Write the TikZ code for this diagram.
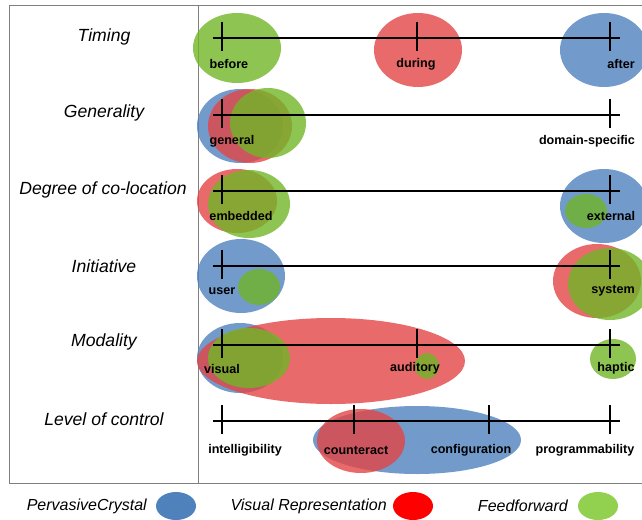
\documentclass[tikz,border=0pt]{standalone}
\usepackage{fontspec}
\setmainfont{Liberation Sans}
\usetikzlibrary{positioning,shapes.geometric}
\definecolor{pcblue}{HTML}{4F81BD}
\definecolor{vrred}{HTML}{E34545}
\definecolor{ffgreen}{HTML}{70B527}
\definecolor{keyred}{HTML}{FF0000}
\definecolor{keygreen}{HTML}{92D050}
\definecolor{framegray}{HTML}{7F7F7F}

\begin{document}
\begin{tikzpicture}[x=1pt,y=-1pt,
  axis/.style={line width=1.1pt,black},
  frameline/.style={framegray,line width=0.9pt},
  dimlabel/.style={font=\fontsize{17.6}{20}\selectfont\itshape,inner sep=0pt},
  value/.style={font=\fontsize{12.6}{14}\selectfont\bfseries,inner sep=0pt},
  legendtext/.style={font=\fontsize{16}{19}\selectfont\itshape,anchor=east,inner sep=0pt},
  keyblob/.style={ellipse,minimum width=40pt,minimum height=28pt,inner sep=0pt},
  pcblob/.style={fill=pcblue,fill opacity=0.8},
  vrblob/.style={fill=vrred,fill opacity=0.8},
  ffblob/.style={fill=ffgreen,fill opacity=0.8}]

  \useasboundingbox (0,0) rectangle (642,519);

  % frame
  \draw[frameline] (642,5) -- (9,5) -- (9,483) -- (642,483);
  \draw[frameline] (198,5) -- (198,483);

  % timing
  \fill[ffblob] (237,48) ellipse [x radius=44,y radius=35];
  \fill[vrblob] (418,50) ellipse [x radius=44,y radius=37];
  \fill[pcblob] (604,50) ellipse [x radius=44,y radius=37];

  % generality
  \fill[pcblob] (240,126) ellipse [x radius=43,y radius=37];
  \fill[vrblob] (250,126) ellipse [x radius=42,y radius=37];
  \fill[ffblob] (268,123) ellipse [x radius=38,y radius=35];

  % degree of co-location
  \fill[vrblob] (237,201) ellipse [x radius=40,y radius=32];
  \fill[ffblob] (249,204) ellipse [x radius=41,y radius=34];
  \fill[pcblob] (604,206) ellipse [x radius=44,y radius=37];
  \fill[ffblob] (586,211) ellipse [x radius=21,y radius=17];

  % initiative
  \fill[pcblob] (241,276) ellipse [x radius=44,y radius=37];
  \fill[ffblob] (259,287) ellipse [x radius=21,y radius=18];
  \fill[vrblob] (597,281) ellipse [x radius=44,y radius=37];
  \fill[ffblob] (610,284) ellipse [x radius=42,y radius=36];

  % modality
  \fill[pcblob] (240,358) ellipse [x radius=43,y radius=35];
  \fill[vrblob] (331,361) ellipse [x radius=134,y radius=43];
  \fill[ffblob] (249,358) ellipse [x radius=41,y radius=30];
  \fill[ffblob] (427,366) ellipse [x radius=12,y radius=13];
  \fill[ffblob] (613,359) ellipse [x radius=23,y radius=20];

  % level of control
  \fill[pcblob] (417,440) ellipse [x radius=104,y radius=34];
  \fill[vrblob] (361,441) ellipse [x radius=44,y radius=32];

  % axes and ticks
  \foreach \y in {38,115,191,266,345,421}
    \draw[axis] (213,\y) -- (620,\y);
  \foreach \x/\y in {222/38,417/38,610/38,222/115,610/115,222/191,610/191,
                     222/266,610/266,222/345,417/345,610/345,
                     222/421,354/421,489/421,610/421}
    \draw[axis] (\x,\y-16) -- (\x,\y+13);

  % dimensions
  \node[dimlabel] (timing) at (104,37) {Timing};
  \node[dimlabel] (generality) at (104,113) {Generality};
  \node[dimlabel] (colocation) at (103,190) {Degree of co-location};
  \node[dimlabel] (initiative) at (104,266) {Initiative};
  \node[dimlabel] (modality) at (104,342) {Modality};
  \node[dimlabel] (control) at (104,419) {Level of control};

  % values
  \node[value] (before) at (229,64) {before};
  \node[value] (during) at (416,64) {during};
  \node[value] (after) at (621,64) {after};
  \node[value] (general) at (232,141) {general};
  \node[value] (specific) at (587,141) {domain-specific};
  \node[value] (embedded) at (241,216) {embedded};
  \node[value] (external) at (611,216) {external};
  \node[value] (user) at (222,291) {user};
  \node[value] (system) at (613,291) {system};
  \node[value] (visual) at (222,369) {visual};
  \node[value] (auditory) at (415,368) {auditory};
  \node[value] (haptic) at (616,368) {haptic};
  \node[value] (intelligibility) at (245,450) {intelligibility};
  \node[value] (counteract) at (356,450) {counteract};
  \node[value] (configuration) at (471,450) {configuration};
  \node[value] (programmability) at (585,450) {programmability};

  % legend
  \node[legendtext] (pclegend) at (147,506) {PervasiveCrystal};
  \node[keyblob,fill=pcblue] (pckey) at (176,506) {};
  \node[legendtext] (vrlegend) at (387,506) {Visual Representation};
  \node[keyblob,fill=keyred] (vrkey) at (413,506) {};
  \node[legendtext] (fflegend) at (568,506) {Feedforward};
  \node[keyblob,fill=keygreen] (ffkey) at (598,506) {};
\end{tikzpicture}
\end{document}
